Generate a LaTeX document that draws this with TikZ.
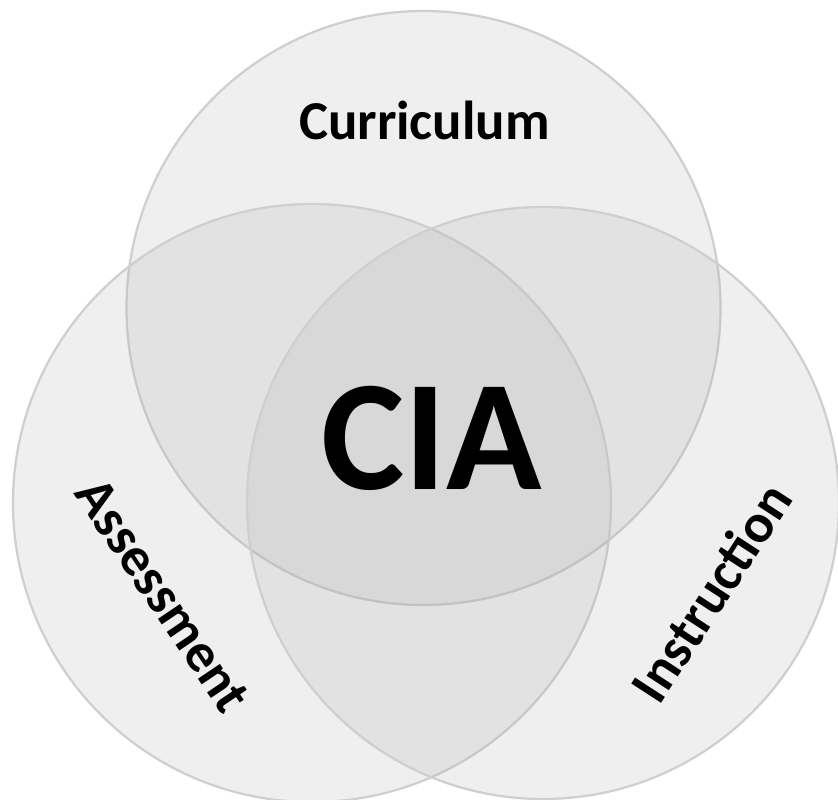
\documentclass[tikz,border=0pt]{standalone}
\usepackage{fontspec}
\setmainfont{Carlito}
\tikzset{
  venn/.style={draw=black!19, line width=1.6pt, fill=black!33, fill opacity=.19, draw opacity=1},
  lbl/.style={font=\bfseries\fontsize{39}{42}\selectfont, inner sep=0pt},
}
\begin{document}
\begin{tikzpicture}[x=.025cm,y=-.025cm]
\useasboundingbox (0,0) rectangle (838,800);
% circles
\draw[venn] (423.5,308) circle [radius=297];
\draw[venn] (312,503) circle [radius=299];
\draw[venn] (543,503) circle [radius=296];
%%%%
\node[lbl, anchor=base] (cur) at (424.5,140) {Curriculum};
\node[lbl, rotate=-56] (ass) at (163,595) {Assessment};
\node[lbl, rotate=57] (ins) at (711,592) {Instruction};
\node[font=\bfseries\fontsize{112}{120}\selectfont, inner sep=0pt, anchor=base] (cia) at (432,490) {CIA};
\end{tikzpicture}
\end{document}
